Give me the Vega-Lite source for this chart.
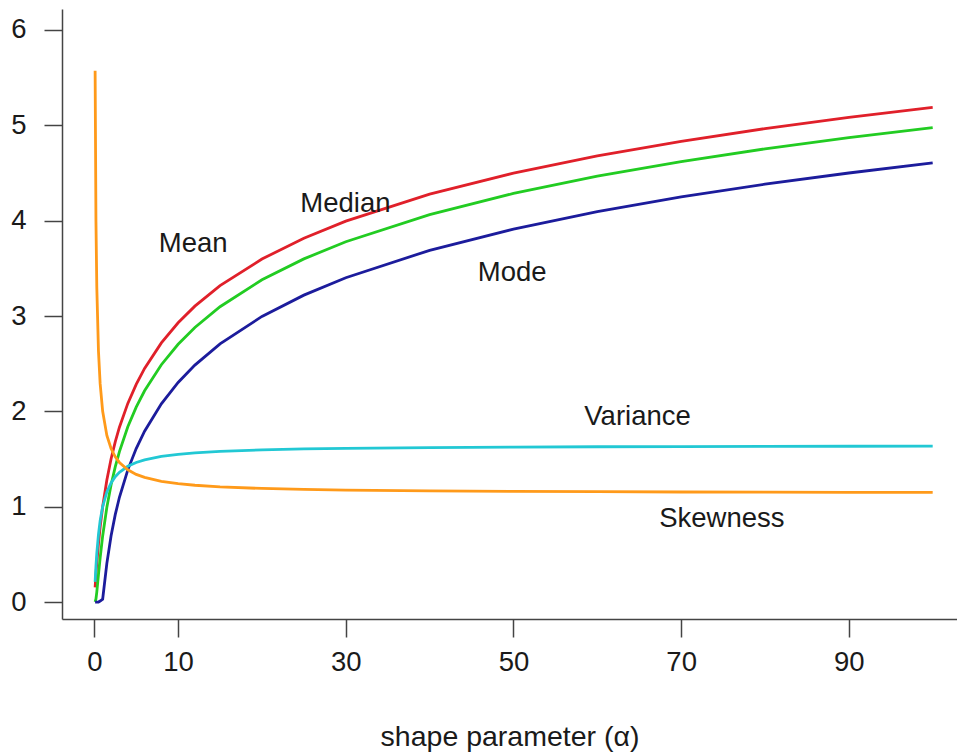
{
  "$schema": "https://vega.github.io/schema/vega-lite/v6.json",
  "autosize": "none",
  "width": 895,
  "height": 610,
  "padding": {"left": 62, "top": 9, "right": 0, "bottom": 134},
  "background": "white",
  "config": {"view": {"stroke": null}, "font": "Liberation Sans"},
  "layer": [
    {
      "data": {"values": [
        {"alpha": 0.1, "Mean": 0.1535, "Median": 0.0010, "Mode": 0, "Variance": 0.2116, "Skewness": 5.573},
        {"alpha": 0.2, "Mean": 0.2882, "Median": 0.0318, "Mode": 0, "Variance": 0.3776, "Skewness": 3.992},
        {"alpha": 0.3, "Mean": 0.4080, "Median": 0.1045, "Mode": 0, "Variance": 0.5107, "Skewness": 3.304},
        {"alpha": 0.5, "Mean": 0.6137, "Median": 0.2877, "Mode": 0, "Variance": 0.7101, "Skewness": 2.632},
        {"alpha": 0.7, "Mean": 0.7858, "Median": 0.4644, "Mode": 0.01, "Variance": 0.8517, "Skewness": 2.290},
        {"alpha": 1, "Mean": 1.0, "Median": 0.6931, "Mode": 0.03, "Variance": 1.0, "Skewness": 2.0},
        {"alpha": 1.5, "Mean": 1.2804, "Median": 0.9942, "Mode": 0.4055, "Variance": 1.1546, "Skewness": 1.747},
        {"alpha": 2, "Mean": 1.5, "Median": 1.2279, "Mode": 0.6931, "Variance": 1.25, "Skewness": 1.610},
        {"alpha": 2.5, "Mean": 1.6804, "Median": 1.4182, "Mode": 0.9163, "Variance": 1.3146, "Skewness": 1.523},
        {"alpha": 3, "Mean": 1.8333, "Median": 1.5784, "Mode": 1.0986, "Variance": 1.3611, "Skewness": 1.464},
        {"alpha": 4, "Mean": 2.0833, "Median": 1.8382, "Mode": 1.3863, "Variance": 1.4236, "Skewness": 1.387},
        {"alpha": 5, "Mean": 2.2833, "Median": 2.0445, "Mode": 1.6094, "Variance": 1.4636, "Skewness": 1.339},
        {"alpha": 6, "Mean": 2.45, "Median": 2.2155, "Mode": 1.7918, "Variance": 1.4914, "Skewness": 1.307},
        {"alpha": 8, "Mean": 2.7179, "Median": 2.4890, "Mode": 2.0794, "Variance": 1.5274, "Skewness": 1.266},
        {"alpha": 10, "Mean": 2.9290, "Median": 2.7036, "Mode": 2.3026, "Variance": 1.5498, "Skewness": 1.241},
        {"alpha": 12, "Mean": 3.1032, "Median": 2.8801, "Mode": 2.4849, "Variance": 1.5650, "Skewness": 1.225},
        {"alpha": 15, "Mean": 3.3182, "Median": 3.0975, "Mode": 2.7081, "Variance": 1.5804, "Skewness": 1.208},
        {"alpha": 20, "Mean": 3.5977, "Median": 3.3795, "Mode": 2.9957, "Variance": 1.5962, "Skewness": 1.191},
        {"alpha": 25, "Mean": 3.8160, "Median": 3.5992, "Mode": 3.2189, "Variance": 1.6057, "Skewness": 1.181},
        {"alpha": 30, "Mean": 3.9950, "Median": 3.7792, "Mode": 3.4012, "Variance": 1.6122, "Skewness": 1.174},
        {"alpha": 40, "Mean": 4.2785, "Median": 4.0641, "Mode": 3.6889, "Variance": 1.6202, "Skewness": 1.165},
        {"alpha": 50, "Mean": 4.4992, "Median": 4.2855, "Mode": 3.9120, "Variance": 1.6251, "Skewness": 1.160},
        {"alpha": 60, "Mean": 4.6799, "Median": 4.4667, "Mode": 4.0943, "Variance": 1.6284, "Skewness": 1.157},
        {"alpha": 70, "Mean": 4.8328, "Median": 4.6200, "Mode": 4.2485, "Variance": 1.6308, "Skewness": 1.154},
        {"alpha": 80, "Mean": 4.9655, "Median": 4.7529, "Mode": 4.3820, "Variance": 1.6325, "Skewness": 1.153},
        {"alpha": 90, "Mean": 5.0826, "Median": 4.8703, "Mode": 4.4998, "Variance": 1.6339, "Skewness": 1.151},
        {"alpha": 100, "Mean": 5.1874, "Median": 4.9750, "Mode": 4.6052, "Variance": 1.6350, "Skewness": 1.150}
      ]},
      "transform": [{"fold": ["Mean", "Median", "Mode", "Variance", "Skewness"], "as": ["stat", "value"]}],
      "mark": {"type": "line", "strokeWidth": 2.8, "clip": true},
      "encoding": {
        "x": {
          "field": "alpha", "type": "quantitative",
          "scale": {"domain": [-3.85, 102.9], "nice": false, "zero": false},
          "axis": {
            "values": [0, 10, 30, 50, 70, 90],
            "format": "d",
            "title": "shape parameter (α)",
            "titleFontSize": 28.5, "titleFontWeight": "normal", "titleColor": "#1a1a1a", "titlePadding": 47,
            "labelFontSize": 27.5, "labelColor": "#1a1a1a", "labelPadding": 11, "labelFlush": false, "labelOverlap": false,
            "tickSize": 18, "tickColor": "#444", "tickWidth": 1.5,
            "domainColor": "#444", "domainWidth": 1.5, "grid": false
          }
        },
        "y": {
          "field": "value", "type": "quantitative",
          "scale": {"domain": [-0.178, 6.22], "nice": false, "zero": false},
          "axis": {
            "values": [0, 1, 2, 3, 4, 5, 6],
            "format": "d",
            "title": null,
            "labelFontSize": 27.5, "labelColor": "#1a1a1a", "labelPadding": 18, "labelFlush": false, "labelOverlap": false,
            "tickSize": 18, "tickColor": "#444", "tickWidth": 1.5,
            "domainColor": "#444", "domainWidth": 1.5, "grid": false
          }
        },
        "color": {
          "field": "stat", "type": "nominal",
          "scale": {"domain": ["Mean", "Median", "Mode", "Variance", "Skewness"], "range": ["#E0202A", "#22CC22", "#1C1C9C", "#22C8D4", "#FF9A1A"]},
          "legend": null
        }
      }
    },
    {
      "data": {"values": [
        {"label": "Mean", "x": 11.8, "y": 3.755},
        {"label": "Median", "x": 29.95, "y": 4.17},
        {"label": "Mode", "x": 49.85, "y": 3.45},
        {"label": "Variance", "x": 64.8, "y": 1.945},
        {"label": "Skewness", "x": 74.85, "y": 0.867}
      ]},
      "mark": {"type": "text", "fontSize": 27.5, "color": "#1a1a1a", "align": "center", "baseline": "middle"},
      "encoding": {
        "x": {"field": "x", "type": "quantitative"},
        "y": {"field": "y", "type": "quantitative"},
        "text": {"field": "label"}
      }
    },
    {
      "mark": {"type": "rule", "color": "#444", "strokeWidth": 1.5},
      "encoding": {"y": {"datum": 6.22}}
    }
  ]
}
